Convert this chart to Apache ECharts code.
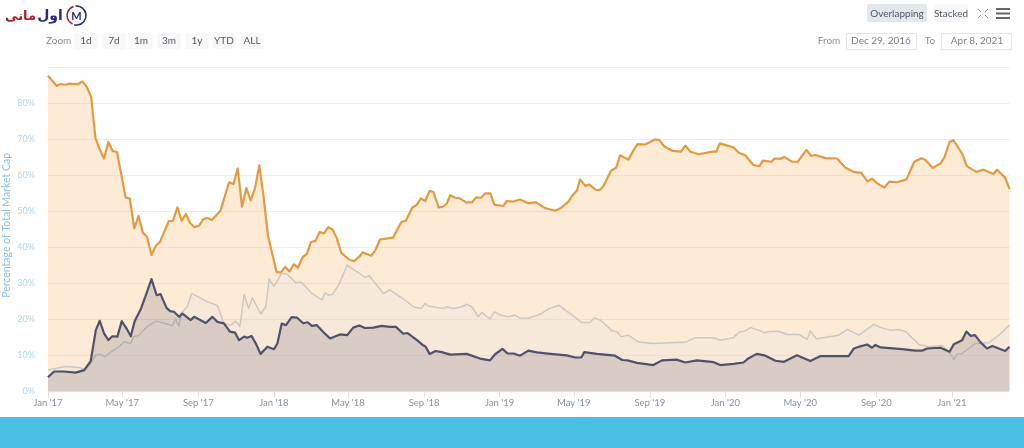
<!DOCTYPE html>
<html>
<head>
<meta charset="utf-8">
<style>html,body{margin:0;padding:0;background:#fff}#c{width:1024px;height:448px}</style>
<script src="https://cdn.jsdelivr.net/npm/echarts@6/dist/echarts.min.js"></script>
</head>
<body>
<div id="c"></div>
<script>
const tickDates = ['2017-01-01','2017-05-01','2017-09-01','2018-01-01','2018-05-01','2018-09-01','2019-01-01','2019-05-01','2019-09-01','2020-01-01','2020-05-01','2020-09-01','2021-01-01'];
const tickLabels = ["Jan '17","May '17","Sep '17","Jan '18","May '18","Sep '18","Jan '19","May '19","Sep '19","Jan '20","May '20","Sep '20","Jan '21"];
const yTicks = [0,10,20,30,40,50,60,70,80,90];
const zoomLabels = ['1d','7d','1m','3m','1y','YTD','ALL'];

const bitcoinWeeks = [0,2,3,4,5,7,8,9,10,11,12,13,14,15,16,18,19,20,21,22,23,24,25,26,28,29,30,31,32,33,34,35,36,37,38,40,42,43,44,45,46,47,48,49,50,51,53,54,55,56,57,58,59,60,61,62,63,64,65,66,67,68,70,71,72,73,75,76,77,80,82,83,84.5,85.5,86.5,87.5,88.5,89.4,90.6,91.6,92.5,93.3,94.4,95.4,97,98.3,99.3,100.4,101.4,102.6,103.5,105.6,106.4,107.7,109.5,111.4,113.2,115.3,117.6,118.8,120.7,121.5,122.7,123.4,124.6,125.5,126.9,127.9,128.8,130.6,131.8,132.7,134.6,135.8,136.7,138.5,140.8,141.8,142.9,144.9,146.8,147.8,149,150.9,154.4,155,155.8,159,160.2,161.7,163.6,165,165.8,167.8,168.5,169.7,170.8,172.6,173.9,175.9,177,178,180.3,183,184.9,186.8,188.6,190.1,191.1,192.3,194,195.1,196.9,199.1,200.9,202.6,203.5,205.2,207,207.9,209.1,210,212,213.1,215.3,217,219.3,220.1,222,223];
const bitcoinShare = [87.7,84.9,85.4,85.2,85.5,85.4,86.1,84.6,81.8,70.4,67.2,64.7,69.3,66.8,66.5,53.9,53.5,45.3,48.7,44.1,42.9,37.9,40.4,41.6,47.3,47.4,51.1,47.4,49.3,46.7,45.6,46,47.8,48.2,47.6,50.2,58.1,57.6,61.9,51.3,56.5,53.1,56.4,62.8,54.1,43.4,33.2,33,34.6,33.3,35.3,34.4,37.2,38.1,41.5,41.8,44.3,43.9,45.6,45,42.5,38.5,36.5,36.2,37.2,38.6,37.7,39.4,42.2,42.7,47.1,47.4,51.1,51.8,53.6,52.9,55.7,55.4,51.1,51.3,52.2,54.5,53.8,53.7,52.5,52.5,53.9,53.8,55,55,51.9,51.5,52.9,52.7,53.3,52.3,52.5,50.9,50.2,50.8,52.7,54.3,55.9,58.9,57.1,57.5,56.1,55.9,57,61.3,62.2,65.6,64.4,67,68.7,68.6,70,69.8,68.1,66.8,66.6,68.3,66.6,65.9,66.7,66.6,68.9,67.8,66.3,65.6,62.9,62.6,64.1,63.8,64.7,64.6,65.1,63.8,63.8,67.1,65.4,65.7,64.8,64.7,62.2,61,60.7,58.3,59.1,57.8,56.6,58.3,58.1,58.9,63.8,64.8,64.3,62.1,63.3,65,69.3,69.8,66.1,62.6,61,61.6,60.4,61.6,59.4,56.2];

const othersWeeks = [0,1.4,4.1,7.2,8.7,9.9,11.1,12.2,13.2,14.9,16.5,17.6,19.2,19.8,21.1,23,25,27.7,28.8,29.6,30.4,30.8,32.3,33.3,37,39.3,40.8,42.4,43.5,44.5,45.5,46.5,47.4,49.3,50.5,51.3,52.4,54.2,55.4,57.5,58.8,61.2,63.5,64.3,65,66,67.4,69.4,73.5,74.5,77.8,79.3,82,84.8,86.5,87.5,88.2,91.7,92.5,94,96,97.1,98.3,99.8,100.6,102.5,103.5,104.9,106.8,108.3,109.4,111.4,114.1,116.1,118.5,121.9,123.8,125.7,126.7,128.1,130.8,131.9,132.9,134.6,137,140.4,144.3,147.8,150.1,154.4,155.9,159,160.2,161.7,162.9,164.8,166.2,167.4,169.5,171.4,174.1,176.1,176.8,178.2,183.4,185.4,188.1,191.5,193.1,195.4,197.3,198.9,202,204.3,207.4,208.9,210.1,210.9,212,215.1,218.2,220.5,223];
const othersShare = [5.9,6.3,6.9,6.6,6,7.8,10.1,10.3,9.6,11.2,12.4,13.8,13.3,15.2,15.6,18,19.5,18.7,18.2,20.1,18,21.7,23.5,27.2,24.9,23.8,18.9,18.4,19.5,18,27,23,26,21.5,23.5,31.2,29.2,32.8,32.6,30.2,30.3,27.2,25.4,27.4,26.7,27,29.5,35.1,31.7,32.1,27.2,28.2,26,23.5,23,24.4,23.7,23,23.5,23,23.5,24.2,23.5,20.7,21.9,20.1,22.1,21.2,20.7,21.2,20.4,20.3,21.4,22.9,23.9,20.9,19.1,19.1,20.4,19.8,16.8,16.6,15.2,15.6,13.7,13.3,13.5,13.6,14.9,14.9,14.2,14.9,16.4,16.8,17.7,17,16.3,16.6,16.7,15.8,15.8,14.4,16.8,14.6,15.6,17.2,15.6,18.6,17.7,17,17.2,16.6,13,12.4,12.7,11,8.9,10.4,10.5,13.3,13.5,15.6,18.4];

const ethereumWeeks = [0,1.4,3.7,6.4,8.4,9.9,11.1,12,13,14,14.9,16.1,17.1,18.2,19.2,20.1,21.5,22.7,24,25.2,26.1,27.5,28.3,29.2,30.4,31.2,33.1,33.9,36.6,38.1,39.3,40.8,42.2,43.4,44.3,45.5,46.2,47.2,48.2,49.3,50.9,52.4,53.2,54.2,55.2,56.5,57.7,59.2,60.2,61.2,62.3,63.9,65.4,67.7,69.4,70.8,72.2,73.5,75.5,77.4,79.3,80.7,82.4,83.4,85.5,87.1,87.6,88.5,89.9,91.3,93.3,97.1,100.2,102.5,103.7,105.4,106.6,108,109.5,111.4,113.4,116.5,120.3,122.3,123.7,124.4,127.3,131.5,133.2,134.4,136.6,140.4,142.4,145.8,147.8,150.5,154.4,155.9,159,161.3,162.5,164.4,166.4,168.7,170.7,173.7,176.8,179.2,185.7,186.9,188.4,190,191.1,191.9,193.1,198.1,201.2,202.7,203.9,207,209.1,210.1,212,213,214,215,216.3,217.8,219,222,223];
const ethereumShare = [3.9,5.5,5.5,5.2,5.9,8.4,17,19.6,16.1,14.2,15.3,15.2,19.5,17.5,15.3,19.5,22.8,26.7,31.2,26.7,27,23.2,22.3,22.1,20.7,21.6,19.8,20.7,19,20.7,19.3,18.9,16.6,16.3,14.2,15.2,14.9,15.4,13.3,10.4,12.4,11.7,13.3,18.8,18.4,20.6,20.5,18.9,19.2,18.2,18.4,16.4,14.7,15.8,15.6,17.7,18.3,17.6,17.7,18.2,17.9,17.9,16,16.2,14.3,12.7,12.4,10.4,11.2,10.9,10.2,10.4,9.1,8.6,10.3,11.8,10.5,10.5,9.9,11.3,10.8,10.4,10,9.4,9.4,10.9,10.4,9.9,8.7,8.6,7.9,7.3,8.6,8.8,8,8.6,8.1,7.3,7.6,8,9.2,10.4,9.9,8.5,8.2,10,8.4,9.8,9.8,11.9,12.5,13,12.1,12.9,12.2,11.7,11.3,11.3,11.9,12.1,11,13.1,14.2,16.6,15.4,15.6,13.6,11.9,12.6,11.2,12.4];

const DAY = 864e5;
const START = Date.UTC(2017, 0, 1);
const DAYS_PER_STEP = 6.97;
const pairs = (w, v) => w.map((x, i) => [START + x * DAYS_PER_STEP * DAY, v[i]]);
const tickTimes = tickDates.map(d => Date.parse(d + 'T00:00:00Z'));
const FONT = 'Lato';

const txt = (x, y, text, fill, size, align, extra) => ({
  type: 'text', x, y, z: 20, silent: true,
  style: Object.assign({ text, fill, font: (size || 10) + 'px ' + FONT, textAlign: align || 'center', textVerticalAlign: 'middle' }, extra || {})
});
const box = (x, y, w, h, fill, stroke, r) => ({
  type: 'rect', x, y, z: 19, silent: true, shape: { x: 0, y: 0, width: w, height: h, r: r || 0 },
  style: { fill, stroke: stroke || null, lineWidth: stroke ? 1 : 0 }
});
const seg = (x1, y1, x2, y2, color, w) => ({
  type: 'line', z: 20, silent: true, shape: { x1, y1, x2, y2 }, style: { stroke: color, lineWidth: w }
});
const ring = (startAngle, endAngle, color) => ({
  type: 'arc', z: 20, silent: true,
  shape: { cx: 76.5, cy: 15.5, r: 9.5, startAngle, endAngle },
  style: { fill: 'none', stroke: color, lineWidth: 1.6 }
});

const btnX = [86, 114, 141, 169, 197, 224, 252];
const graphics = [
  box(0, 417, 1024, 31, '#49bfe1'),
  txt(20.5, 17, 'مانی', '#a3242f', 13, 'center', { font: 'bold 13px "DejaVu Sans"' }),
  txt(50, 16, 'اول', '#2a2a80', 14, 'center', { font: 'bold 14px "DejaVu Sans"' }),
  ring(2.0, 4.4, '#a3242f'),
  ring(4.6, 8.1, '#2a2a80'),
  txt(76.5, 16.5, 'M', '#2a2a80', 11, 'center', { font: 'bold 11px "Lato"' }),
  txt(46, 41, 'Zoom', '#8a8f96', 10, 'left'),
  box(867, 4, 60, 18, '#e3e7ec', null, 2),
  txt(897, 13.5, 'Overlapping', '#4f5a66', 10),
  box(934, 4, 34, 18, '#f8f8f8', null, 2),
  txt(951, 13.5, 'Stacked', '#4f5a66', 10),
  txt(829, 41, 'From', '#8a8f96', 10),
  box(846.5, 33.5, 70, 16, '#fff', '#e6e6e6'),
  txt(881, 41, 'Dec 29, 2016', '#7a828c', 10),
  txt(930, 41, 'To', '#8a8f96', 10),
  box(941.5, 33.5, 70, 16, '#fff', '#e6e6e6'),
  txt(977, 41, 'Apr 8, 2021', '#7a828c', 10),
  seg(996, 9, 1010, 9, '#666', 2), seg(996, 13.5, 1010, 13.5, '#666', 2), seg(996, 18, 1010, 18, '#666', 2),
  seg(978, 9, 981, 12, '#8a8f96', 1), seg(988, 9, 985, 12, '#8a8f96', 1), seg(978, 18, 981, 15, '#8a8f96', 1), seg(988, 18, 985, 15, '#8a8f96', 1)
];
zoomLabels.forEach((l, i) => {
  graphics.push(box(btnX[i] - 11.5, 33, 23, 16, '#f8f8f8', null, 2));
  graphics.push(txt(btnX[i], 41, l, '#4f5a66', 10));
});

const area = (name, weeks, values, color, width, fill, z) => ({
  name, type: 'line', data: pairs(weeks, values), showSymbol: false, smooth: false, z,
  lineStyle: { color, width, join: 'round' }, itemStyle: { color }, areaStyle: { color: fill, opacity: 1, origin: 'start' }
});

const chart = echarts.init(document.getElementById('c'), null, { renderer: 'canvas' });
chart.setOption({
  animation: false,
  backgroundColor: '#fff',
  textStyle: { fontFamily: FONT },
  grid: { left: 48, right: 14.5, top: 67.5, bottom: 56.7, containLabel: false, outerBoundsMode: 'none' },
  xAxis: {
    type: 'value',
    min: START,
    max: START + 223 * DAYS_PER_STEP * DAY,
    axisLine: { show: false },
    splitLine: { show: false },
    axisTick: { show: true, length: 6, customValues: tickTimes, lineStyle: { color: '#dfe3ec' } },
    axisLabel: {
      customValues: tickTimes,
      color: '#8a93a0', fontSize: 9.5, margin: 7, fontFamily: FONT, hideOverlap: false, showMinLabel: true, showMaxLabel: true,
      formatter: v => tickLabels[tickTimes.indexOf(v)] || ''
    }
  },
  yAxis: {
    type: 'value', min: yTicks[0], max: yTicks[yTicks.length - 1], interval: 10,
    name: 'Percentage of Total Market Cap', nameLocation: 'middle', nameGap: 36, nameMoveOverlap: false,
    nameTextStyle: { color: '#8fc0e4', fontSize: 10.5, fontFamily: FONT, padding: [0, 0, 0, 8] },
    axisLine: { show: false }, axisTick: { show: false },
    splitLine: { lineStyle: { color: '#eeeeee', width: 1 } },
    axisLabel: { color: '#b5d4ea', fontSize: 9, margin: 13, fontFamily: FONT, showMaxLabel: false, formatter: '{value}%' }
  },
  series: [
    area('Bitcoin', bitcoinWeeks, bitcoinShare, '#e39a41', 2.2, 'rgba(247,180,98,0.27)', 2),
    area('Others', othersWeeks, othersShare, '#cbc8c3', 1.5, 'rgba(215,225,240,0.18)', 3),
    area('Ethereum', ethereumWeeks, ethereumShare, '#4f5268', 2.2, 'rgba(70,65,97,0.17)', 4)
  ],
  graphic: { elements: graphics }
});
</script>
</body>
</html>
